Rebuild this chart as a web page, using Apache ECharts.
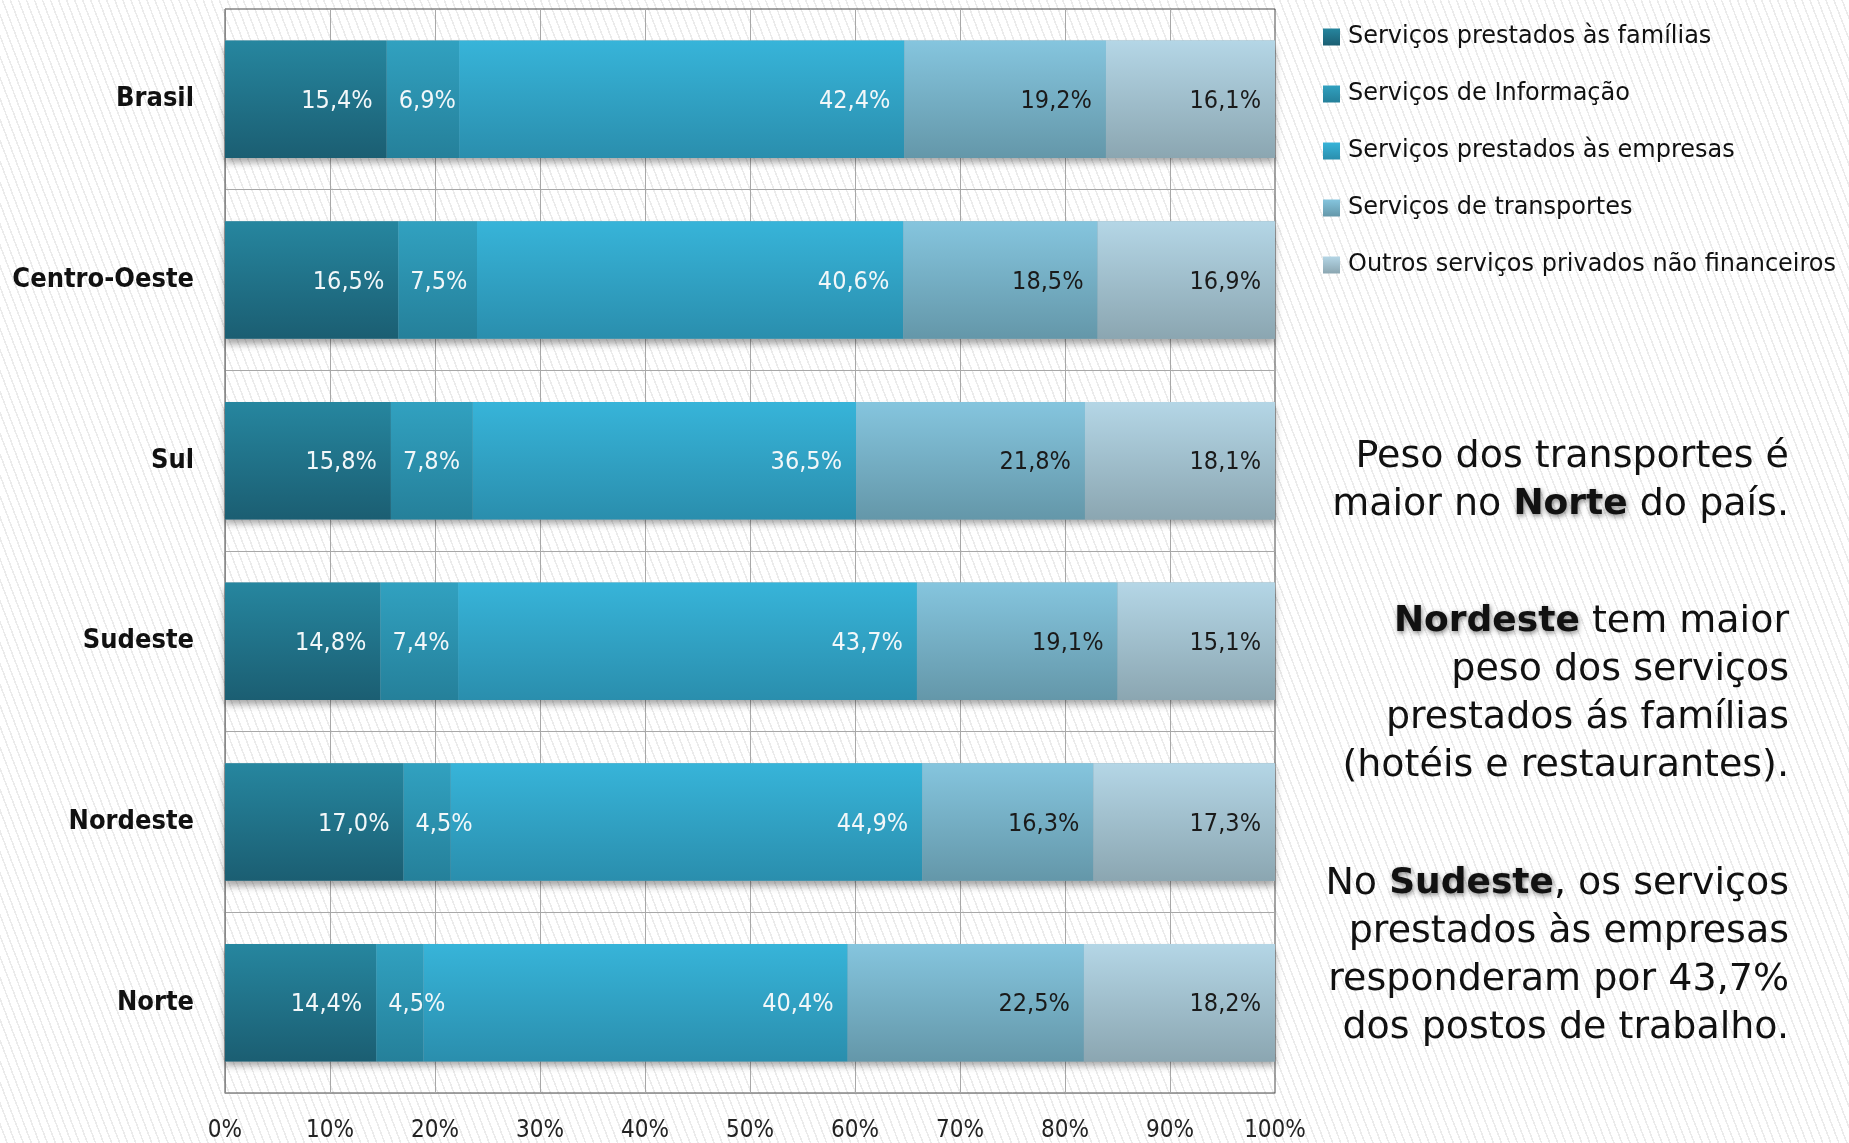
<!DOCTYPE html>
<html>
<head>
<meta charset="utf-8">
<script src="https://cdn.jsdelivr.net/npm/echarts@6/dist/echarts.min.js"></script>
<style>
html, body { margin: 0; padding: 0; }
body {
    background: #fff repeating-linear-gradient(69deg, #fff 0, #fff 6px, #ebebeb 6px, #ebebeb 7.5px);
}
#chart { width: 1849px; height: 1143px; }
</style>
</head>
<body>
<div id="chart"></div>
<script>
var regioes = ['Brasil', 'Centro-Oeste', 'Sul', 'Sudeste', 'Nordeste', 'Norte'];
var nomes = ['Serviços prestados às famílias', 'Serviços de Informação', 'Serviços prestados às empresas',
    'Serviços de transportes', 'Outros serviços privados não financeiros'];
var familias    = [15.4, 16.5, 15.8, 14.8, 17.0, 14.4];
var informacao  = [6.9, 7.5, 7.8, 7.4, 4.5, 4.5];
var empresas    = [42.4, 40.6, 36.5, 43.7, 44.9, 40.4];
var transportes = [19.2, 18.5, 21.8, 19.1, 16.3, 22.5];
var outros      = [16.1, 16.9, 18.1, 15.1, 17.3, 18.2];
var valores = [familias, informacao, empresas, transportes, outros];

var cores = [
    ['#26869f', '#1b5e72'],
    ['#31a1c0', '#25809a'],
    ['#37b4d9', '#2a8ead'],
    ['#85c5de', '#6497a9'],
    ['#b4d6e6', '#8ba6b1']
];
var corTexto = ['#f2f7f9', '#f2f7f9', '#f2f7f9', '#1a1a1a', '#1a1a1a'];
// a serie de informacao e estreita: rotulo encostado a esquerda
var posRotulo = ['insideRight', 'insideLeft', 'insideRight', 'insideRight', 'insideRight'];

var fonteCond = '"DejaVu Sans Condensed", "Liberation Sans Narrow", "DejaVu Sans", sans-serif';
var fonte = '"DejaVu Sans", Verdana, sans-serif';

var myChart = echarts.init(document.getElementById('chart'));

var series = [];
for (var i = 0; i < nomes.length; i++) {
    var s = {
        name: nomes[i],
        type: 'bar',
        stack: 'total',
        barCategoryGap: '35%',
        data: valores[i],
        itemStyle: {
            color: new echarts.graphic.LinearGradient(0, 0, 0, 1, [
                { offset: 0, color: cores[i][0] },
                { offset: 1, color: cores[i][1] }
            ])
        },
        label: {
            show: true,
            position: posRotulo[i],
            distance: posRotulo[i] == 'insideLeft' ? 12 : 14,
            offset: [0, 2],
            color: corTexto[i],
            fontFamily: fonteCond,
            fontSize: 25,
            formatter: function (p) {
                return p.value.toFixed(1).replace('.', ',') + '%';
            }
        },
        emphasis: { disabled: true }
    };
    if (i == 0) {
        // sombra por baixo da barra inteira
        s.showBackground = true;
        s.backgroundStyle = {
            color: '#8ba6b1',
            shadowColor: 'rgba(0,0,0,0.35)',
            shadowBlur: 7,
            shadowOffsetY: 5
        };
    }
    series.push(s);
}

var option = {
    backgroundColor: 'rgba(0,0,0,0)',
    animation: false,
    grid: {
        left: 225,
        right: 574,
        top: 9,
        bottom: 50,
        show: true,
        borderColor: '#4a4a4a',
        borderWidth: 1,
        outerBoundsMode: 'none'
    },
    legend: {
        orient: 'vertical',
        left: 1318,
        top: 20,
        icon: 'rect',
        itemWidth: 17,
        itemHeight: 17,
        itemGap: 33,
        data: nomes,
        textStyle: {
            fontFamily: fonte,
            fontSize: 24,
            lineHeight: 24,
            color: '#111',
            padding: [0, 0, 0, 3]
        },
        selectedMode: false
    },
    xAxis: {
        type: 'value',
        min: 0,
        max: 100,
        interval: 10,
        axisLine: { show: true, lineStyle: { color: '#9a9a9a', width: 1 } },
        axisTick: { show: false },
        splitLine: { show: true, showMaxLine: false, lineStyle: { color: '#a8a8a8', width: 1 } },
        axisLabel: {
            margin: 26,
            fontFamily: fonteCond,
            fontSize: 24,
            color: '#222',
            showMinLabel: true,
            showMaxLabel: true,
            formatter: '{value}%'
        }
    },
    yAxis: {
        type: 'category',
        data: regioes,
        inverse: true,
        axisLine: { show: true, lineStyle: { color: '#8a8a8a', width: 1 } },
        axisTick: { show: false },
        splitLine: { show: true, showMinLine: false, showMaxLine: false, lineStyle: { color: '#a8a8a8', width: 1 } },
        axisLabel: {
            margin: 31,
            fontFamily: fonteCond,
            fontWeight: 'bold',
            fontSize: 27,
            color: '#111'
        }
    },
    graphic: [],
    series: series
};

var destaque = {
    fontFamily: fonte,
    fontSize: 36,
    fontWeight: 'bold',
    lineHeight: 48,
    fill: '#111',
    textShadowColor: 'rgba(0,0,0,0.5)',
    textShadowBlur: 5,
    textShadowOffsetX: 1,
    textShadowOffsetY: 2
};
var textos = [
    ['Peso dos transportes é\nmaior no {b|Norte} do país.', 433],
    ['{b|Nordeste} tem maior\npeso dos serviços\nprestados ás famílias\n(hotéis e restaurantes).', 598],
    ['No {b|Sudeste}, os serviços\nprestados às empresas\nresponderam por 43,7%\ndos postos de trabalho.', 860]
];
for (var k = 0; k < textos.length; k++) {
    option.graphic.push({
        type: 'text',
        x: 1789,
        y: textos[k][1],
        style: {
            text: textos[k][0],
            align: 'right',
            verticalAlign: 'top',
            fontFamily: fonte,
            fontSize: 38,
            lineHeight: 48,
            fill: '#111',
            rich: { b: destaque }
        }
    });
}

myChart.setOption(option);
</script>
</body>
</html>
